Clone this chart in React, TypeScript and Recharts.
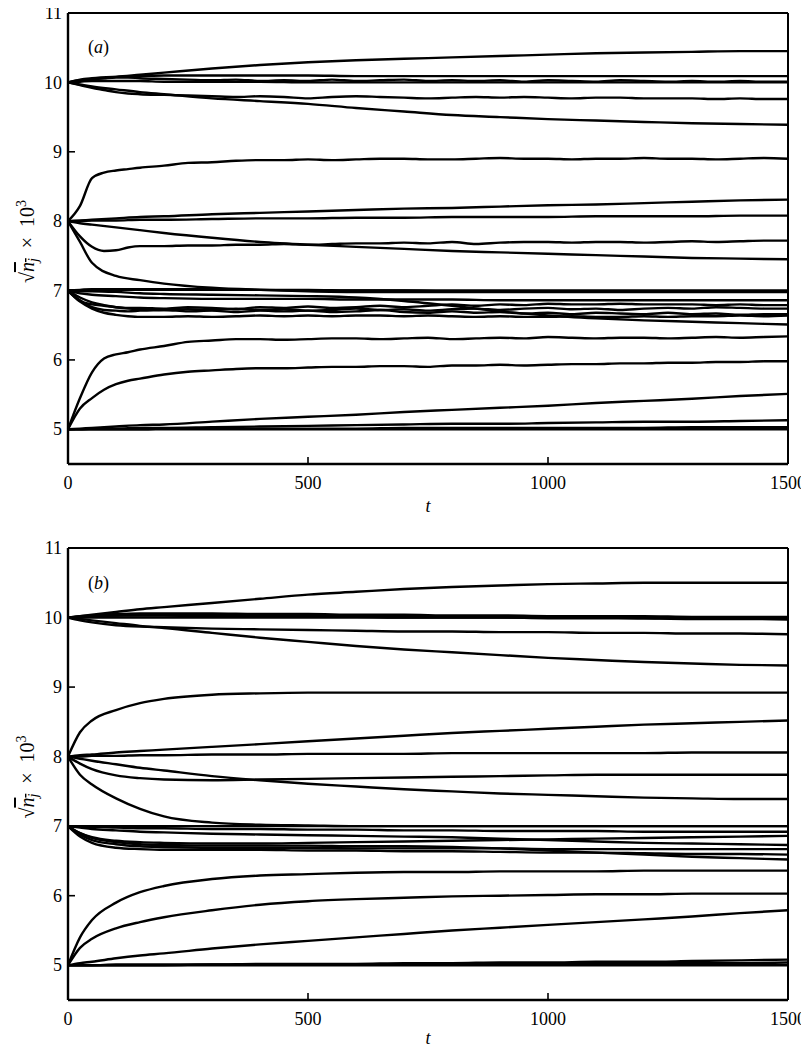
import React from 'react';
import { LineChart, Line, XAxis, YAxis, ReferenceLine, Customized } from 'recharts';

// ---------- time grids ----------
const T_S = [0, 25, 50, 100, 150, 200, 300, 400, 500, 600, 700, 800, 900, 1000, 1100, 1200, 1300, 1400, 1500];
const T_W = [0, 25, 50, 75, 100, 125, 150, 200, 250, 300, 350, 400, 450, 500, 550, 600, 650, 700, 750, 800, 850, 900, 950, 1000, 1050, 1100, 1150, 1200, 1250, 1300, 1350, 1400, 1450, 1500];
const X_TICKS = [0, 500, 1000, 1500];
const Y_TICKS = [5, 6, 7, 8, 9, 10, 11];

// ---------- panel (a) ----------
const A_10_UP = [10, 10.02, 10.04, 10.08, 10.11, 10.14, 10.2, 10.25, 10.29, 10.32, 10.34, 10.36, 10.38, 10.4, 10.42, 10.43, 10.44, 10.45, 10.45];
const A_10_HI = [10, 10.04, 10.06, 10.08, 10.09, 10.1, 10.1, 10.1, 10.1, 10.09, 10.09, 10.09, 10.09, 10.09, 10.09, 10.09, 10.09, 10.09, 10.09];
const A_10_WIG = [10, 10.03, 10.05, 10.06, 10.07, 10.07, 10.06, 10.05, 10.04, 10.03, 10.04, 10.02, 10.03, 10.02, 10.04, 10.02, 10.03, 10.04, 10.02, 10.03, 10.02, 10.03, 10.01, 10.03, 10.02, 10.01, 10.03, 10.02, 10.01, 10.02, 10.01, 10.02, 10.01, 10.01];
const A_10_FLAT = [10, 10.01, 10.02, 10.02, 10.02, 10.01, 10.01, 10.01, 10, 10, 10, 10, 10, 10, 10, 10, 10, 10, 10];
const A_10_LOW = [10, 9.96, 9.92, 9.89, 9.86, 9.84, 9.83, 9.82, 9.81, 9.8, 9.79, 9.8, 9.79, 9.77, 9.79, 9.8, 9.79, 9.78, 9.77, 9.78, 9.79, 9.78, 9.79, 9.78, 9.77, 9.78, 9.78, 9.77, 9.77, 9.77, 9.76, 9.77, 9.76, 9.76];
const A_10_DOWN = [10, 9.97, 9.94, 9.9, 9.86, 9.83, 9.77, 9.73, 9.69, 9.63, 9.58, 9.53, 9.5, 9.47, 9.45, 9.43, 9.41, 9.4, 9.39];

const A_8_JUMP = [8, 8.22, 8.62, 8.7, 8.73, 8.75, 8.77, 8.8, 8.84, 8.85, 8.87, 8.88, 8.88, 8.89, 8.88, 8.89, 8.9, 8.9, 8.89, 8.89, 8.9, 8.91, 8.9, 8.9, 8.89, 8.9, 8.9, 8.91, 8.9, 8.9, 8.89, 8.9, 8.91, 8.9];
const A_8_UP = [8, 8.01, 8.02, 8.04, 8.06, 8.07, 8.1, 8.12, 8.14, 8.16, 8.18, 8.19, 8.21, 8.23, 8.24, 8.26, 8.28, 8.3, 8.31];
const A_8_FLAT = [8, 8, 8.01, 8.01, 8.02, 8.02, 8.03, 8.04, 8.04, 8.05, 8.05, 8.06, 8.06, 8.06, 8.07, 8.07, 8.07, 8.08, 8.08];
const A_8_DIP = [8, 7.78, 7.63, 7.57, 7.58, 7.62, 7.64, 7.64, 7.65, 7.65, 7.66, 7.66, 7.67, 7.66, 7.67, 7.68, 7.68, 7.69, 7.68, 7.7, 7.67, 7.69, 7.7, 7.7, 7.69, 7.7, 7.7, 7.69, 7.7, 7.71, 7.7, 7.71, 7.72, 7.72];
const A_8_DOWN = [8, 7.97, 7.95, 7.91, 7.87, 7.83, 7.76, 7.7, 7.66, 7.63, 7.6, 7.57, 7.55, 7.53, 7.51, 7.49, 7.47, 7.46, 7.45];
const A_8_DECAY = [8, 7.7, 7.4, 7.21, 7.15, 7.1, 7.04, 7.01, 6.99, 6.98, 6.98, 6.98, 6.98, 6.98, 6.98, 6.98, 6.98, 6.98, 6.98];

const A_7_FLAT = [7, 7, 7.01, 7.01, 7.01, 7.01, 7.01, 7.01, 7, 7, 7, 7, 7, 7, 7, 7, 7, 7, 7];
const A_7_FLAT2 = [7, 7.01, 7.02, 7.02, 7.02, 7.02, 7.02, 7.01, 7.01, 7, 7, 6.99, 6.99, 6.99, 6.99, 6.99, 6.99, 6.99, 6.99];
const A_7_SLIDE = [7, 6.99, 6.99, 6.98, 6.96, 6.95, 6.94, 6.93, 6.92, 6.9, 6.85, 6.78, 6.7, 6.64, 6.6, 6.57, 6.55, 6.53, 6.51];
const A_7_HIGH = [7, 6.96, 6.94, 6.92, 6.9, 6.89, 6.88, 6.88, 6.88, 6.87, 6.87, 6.87, 6.86, 6.86, 6.86, 6.86, 6.86, 6.86, 6.86];
const A_7_W1 = [7, 6.85, 6.8, 6.78, 6.76, 6.75, 6.75, 6.74, 6.76, 6.75, 6.73, 6.76, 6.75, 6.77, 6.75, 6.76, 6.78, 6.76, 6.78, 6.8, 6.78, 6.8, 6.79, 6.81, 6.8, 6.8, 6.81, 6.8, 6.8, 6.8, 6.79, 6.8, 6.79, 6.79];
const A_7_W2 = [7, 6.9, 6.83, 6.79, 6.76, 6.74, 6.73, 6.72, 6.73, 6.72, 6.74, 6.72, 6.73, 6.71, 6.72, 6.74, 6.72, 6.73, 6.71, 6.73, 6.74, 6.72, 6.74, 6.75, 6.73, 6.74, 6.72, 6.74, 6.75, 6.74, 6.76, 6.75, 6.74, 6.74];
const A_7_W3 = [7, 6.86, 6.76, 6.72, 6.71, 6.7, 6.71, 6.72, 6.7, 6.71, 6.69, 6.71, 6.7, 6.71, 6.69, 6.7, 6.72, 6.69, 6.68, 6.7, 6.68, 6.69, 6.67, 6.68, 6.66, 6.68, 6.67, 6.66, 6.68, 6.66, 6.67, 6.65, 6.66, 6.66];
const A_7_W4 = [7, 6.84, 6.74, 6.68, 6.65, 6.63, 6.62, 6.62, 6.63, 6.62, 6.63, 6.64, 6.63, 6.64, 6.63, 6.64, 6.64, 6.63, 6.64, 6.63, 6.62, 6.63, 6.62, 6.62, 6.63, 6.62, 6.62, 6.63, 6.62, 6.63, 6.63, 6.64, 6.63, 6.64];

const A_5_JUMP = [5, 5.45, 5.82, 6.02, 6.08, 6.11, 6.15, 6.2, 6.26, 6.28, 6.3, 6.3, 6.29, 6.3, 6.31, 6.31, 6.3, 6.31, 6.32, 6.3, 6.31, 6.32, 6.31, 6.33, 6.32, 6.31, 6.32, 6.32, 6.31, 6.32, 6.33, 6.32, 6.33, 6.34];
const A_5_RISE = [5, 5.3, 5.45, 5.57, 5.65, 5.7, 5.73, 5.79, 5.83, 5.85, 5.87, 5.88, 5.88, 5.89, 5.9, 5.9, 5.91, 5.91, 5.9, 5.92, 5.92, 5.93, 5.92, 5.93, 5.94, 5.94, 5.95, 5.95, 5.96, 5.96, 5.97, 5.97, 5.98, 5.98];
const A_5_UP = [5, 5.01, 5.02, 5.04, 5.06, 5.07, 5.11, 5.15, 5.18, 5.21, 5.25, 5.28, 5.31, 5.34, 5.38, 5.41, 5.44, 5.48, 5.51];
const A_5_SLOW = [5, 5, 5.01, 5.01, 5.02, 5.02, 5.03, 5.04, 5.05, 5.06, 5.07, 5.08, 5.08, 5.09, 5.1, 5.11, 5.11, 5.12, 5.13];
const A_5_LOW = [5, 5, 5, 5, 5, 5.01, 5.01, 5.01, 5.01, 5.01, 5.02, 5.02, 5.02, 5.02, 5.02, 5.02, 5.03, 5.03, 5.03];
const A_5_FLAT = [5, 5, 5, 5, 5, 5, 5, 5, 5, 5, 5, 5, 5, 5, 5, 5, 5, 5, 5];

// ---------- panel (b) ----------
const B_10_UP = [10, 10.02, 10.04, 10.08, 10.12, 10.15, 10.21, 10.27, 10.33, 10.37, 10.41, 10.44, 10.46, 10.48, 10.49, 10.5, 10.5, 10.5, 10.5];
const B_10_A = [10, 10.02, 10.03, 10.05, 10.06, 10.06, 10.06, 10.05, 10.05, 10.04, 10.04, 10.03, 10.03, 10.02, 10.02, 10.02, 10.01, 10.01, 10.01];
const B_10_B = [10, 10.01, 10.02, 10.03, 10.04, 10.04, 10.04, 10.04, 10.03, 10.03, 10.02, 10.02, 10.01, 10, 10, 9.99, 9.98, 9.98, 9.97];
const B_10_C = [10, 10, 10, 10, 10, 10, 10, 10, 10, 10, 10, 10, 10, 10, 10, 10, 10, 10, 10];
const B_10_D = [10, 10.01, 10.02, 10.03, 10.03, 10.03, 10.02, 10.02, 10.01, 10.01, 10, 10, 10, 9.99, 9.99, 9.99, 9.99, 9.99, 9.99];
const B_10_LOW = [10, 9.96, 9.93, 9.89, 9.87, 9.86, 9.84, 9.83, 9.82, 9.81, 9.8, 9.8, 9.79, 9.79, 9.78, 9.78, 9.77, 9.77, 9.76];
const B_10_DOWN = [10, 9.98, 9.96, 9.92, 9.88, 9.85, 9.78, 9.71, 9.65, 9.59, 9.54, 9.5, 9.46, 9.42, 9.39, 9.36, 9.34, 9.32, 9.31];

const B_8_JUMP = [8, 8.35, 8.52, 8.67, 8.77, 8.83, 8.89, 8.91, 8.92, 8.92, 8.92, 8.92, 8.92, 8.92, 8.92, 8.92, 8.92, 8.92, 8.92];
const B_8_UP = [8, 8.02, 8.03, 8.06, 8.08, 8.1, 8.14, 8.18, 8.22, 8.26, 8.3, 8.34, 8.37, 8.4, 8.43, 8.46, 8.48, 8.5, 8.52];
const B_8_FLAT = [8, 8, 8.01, 8.01, 8.02, 8.02, 8.03, 8.03, 8.04, 8.04, 8.04, 8.05, 8.05, 8.05, 8.05, 8.05, 8.06, 8.06, 8.06];
const B_8_DIP = [8, 7.9, 7.82, 7.73, 7.69, 7.67, 7.66, 7.67, 7.68, 7.69, 7.7, 7.71, 7.72, 7.73, 7.74, 7.74, 7.74, 7.74, 7.74];
const B_8_DOWN = [8, 7.97, 7.94, 7.89, 7.84, 7.8, 7.72, 7.66, 7.61, 7.57, 7.53, 7.5, 7.47, 7.45, 7.43, 7.41, 7.4, 7.39, 7.39];
const B_8_DECAY = [8, 7.74, 7.6, 7.4, 7.25, 7.14, 7.05, 7.02, 7.01, 7, 7, 7, 7, 7, 7, 7, 7, 7, 7];

const B_7_FLAT = [7, 7, 7, 7, 7, 7, 7, 7, 7, 7, 7, 7, 7, 7, 7, 7, 7, 7, 7];
const B_7_A = [7, 6.99, 6.99, 6.98, 6.97, 6.97, 6.96, 6.96, 6.95, 6.95, 6.94, 6.94, 6.93, 6.93, 6.93, 6.92, 6.92, 6.92, 6.92];
const B_7_B = [7, 6.98, 6.96, 6.94, 6.92, 6.91, 6.89, 6.88, 6.87, 6.86, 6.85, 6.84, 6.82, 6.8, 6.78, 6.76, 6.75, 6.74, 6.73];
const B_7_C = [7, 6.9, 6.84, 6.79, 6.77, 6.76, 6.75, 6.75, 6.76, 6.77, 6.78, 6.79, 6.8, 6.81, 6.82, 6.83, 6.84, 6.85, 6.86];
const B_7_D = [7, 6.88, 6.8, 6.74, 6.71, 6.7, 6.69, 6.69, 6.69, 6.68, 6.68, 6.68, 6.68, 6.67, 6.67, 6.67, 6.67, 6.67, 6.67];
const B_7_E = [7, 6.85, 6.76, 6.69, 6.67, 6.66, 6.66, 6.66, 6.65, 6.65, 6.64, 6.64, 6.63, 6.62, 6.62, 6.61, 6.6, 6.6, 6.59];
const B_7_F = [7, 6.9, 6.83, 6.77, 6.74, 6.73, 6.72, 6.72, 6.72, 6.71, 6.71, 6.7, 6.68, 6.65, 6.62, 6.59, 6.56, 6.54, 6.52];

const B_5_JUMP = [5, 5.4, 5.65, 5.9, 6.05, 6.14, 6.24, 6.29, 6.31, 6.33, 6.34, 6.34, 6.35, 6.35, 6.35, 6.36, 6.36, 6.36, 6.36];
const B_5_RISE = [5, 5.25, 5.38, 5.53, 5.62, 5.69, 5.79, 5.87, 5.92, 5.95, 5.97, 5.99, 6, 6.01, 6.02, 6.02, 6.03, 6.03, 6.03];
const B_5_UP = [5, 5.03, 5.05, 5.1, 5.14, 5.17, 5.24, 5.3, 5.35, 5.4, 5.45, 5.5, 5.54, 5.58, 5.62, 5.66, 5.7, 5.75, 5.79];
const B_5_SLOW = [5, 5, 5, 5.01, 5.01, 5.01, 5.01, 5.02, 5.02, 5.02, 5.03, 5.03, 5.04, 5.04, 5.05, 5.05, 5.06, 5.07, 5.08];
const B_5_LOW = [5, 5, 5, 5, 5, 5, 5.01, 5.01, 5.01, 5.01, 5.01, 5.02, 5.02, 5.02, 5.02, 5.03, 5.03, 5.03, 5.04];
const B_5_FLAT = [5, 5, 5, 5, 5, 5, 5, 5, 5, 5, 5, 5, 5, 5, 5, 5, 5, 5, 5];

type Series = [number[], number[]];

const PANEL_A: Series[] = [
  [T_S, A_10_UP], [T_S, A_10_HI], [T_W, A_10_WIG], [T_S, A_10_FLAT], [T_W, A_10_LOW], [T_S, A_10_DOWN],
  [T_W, A_8_JUMP], [T_S, A_8_UP], [T_S, A_8_FLAT], [T_W, A_8_DIP], [T_S, A_8_DOWN], [T_S, A_8_DECAY],
  [T_S, A_7_FLAT], [T_S, A_7_FLAT2], [T_S, A_7_SLIDE], [T_S, A_7_HIGH], [T_W, A_7_W1], [T_W, A_7_W2], [T_W, A_7_W3], [T_W, A_7_W4],
  [T_W, A_5_JUMP], [T_W, A_5_RISE], [T_S, A_5_UP], [T_S, A_5_SLOW], [T_S, A_5_LOW], [T_S, A_5_FLAT],
];

const PANEL_B: Series[] = [
  [T_S, B_10_UP], [T_S, B_10_A], [T_S, B_10_B], [T_S, B_10_C], [T_S, B_10_D], [T_S, B_10_LOW], [T_S, B_10_DOWN],
  [T_S, B_8_JUMP], [T_S, B_8_UP], [T_S, B_8_FLAT], [T_S, B_8_DIP], [T_S, B_8_DOWN], [T_S, B_8_DECAY],
  [T_S, B_7_FLAT], [T_S, B_7_A], [T_S, B_7_B], [T_S, B_7_C], [T_S, B_7_D], [T_S, B_7_E], [T_S, B_7_F],
  [T_S, B_5_JUMP], [T_S, B_5_RISE], [T_S, B_5_UP], [T_S, B_5_SLOW], [T_S, B_5_LOW], [T_S, B_5_FLAT],
];

const FONT = '"Liberation Serif", "DejaVu Serif", "Times New Roman", serif';
const FS = 18;
const TXT = { fontFamily: FONT, fontSize: FS, fill: '#000' } as React.CSSProperties;

const toRows = (s: Series) => s[0].map((t, i) => ({ t, v: s[1][i] }));

const YTick = (props: any) => {
  const { x, y, payload } = props;
  return (
    <g>
      <line x1={x} x2={x + 7} y1={y} y2={y} stroke="#000" strokeWidth={1.6} />
      <text x={x - 6} y={y} dy="0.34em" textAnchor="end" style={TXT}>
        {payload.value}
      </text>
    </g>
  );
};

const XTick = (props: any) => {
  const { x, y, payload } = props;
  return (
    <g>
      <line x1={x} x2={x} y1={y} y2={y - 7} stroke="#000" strokeWidth={1.6} />
      <text x={x} y={y + 19} dy="0.34em" textAnchor="middle" style={TXT}>
        {payload.value}
      </text>
    </g>
  );
};

type PanelProps = {
  series: Series[];
  tag: string;
  height: number;
  top: number;
  axisH: number;
  tagY: number;
  tY: number;
};

const PLOT_LEFT = 68;
const PLOT_W = 720;
const CHART_W = 809;

function Panel({ series, tag, height, top, axisH, tagY, tY }: PanelProps) {
  const plotH = height - top - axisH;
  const cy = top + plotH / 2 + 3;
  const lx = 34;
  return (
    <LineChart
      width={CHART_W}
      height={height}
      margin={{ top, right: CHART_W - PLOT_LEFT - PLOT_W, left: 0, bottom: 0 }}
    >
      <XAxis
        dataKey="t"
        type="number"
        domain={[0, 1500]}
        ticks={X_TICKS}
        interval={0}
        height={axisH}
        tickSize={0}
        tickMargin={0}
        tickLine={false}
        axisLine={{ stroke: '#000', strokeWidth: 2.4 }}
        tick={<XTick />}
      />
      <YAxis
        type="number"
        domain={[4.5, 11]}
        ticks={Y_TICKS}
        interval={0}
        width={PLOT_LEFT}
        tickSize={0}
        tickMargin={0}
        tickLine={false}
        axisLine={{ stroke: '#000', strokeWidth: 2.4 }}
        tick={<YTick />}
      />
      <ReferenceLine y={11} stroke="#000" strokeWidth={2} ifOverflow="visible" />
      <ReferenceLine x={1500} stroke="#000" strokeWidth={2} ifOverflow="visible" />
      {series.map((s, i) => (
        <Line
          key={i}
          data={toRows(s)}
          dataKey="v"
          type="monotone"
          stroke="#000"
          strokeWidth={2.4}
          dot={false}
          activeDot={false}
          isAnimationActive={false}
        />
      ))}
      <Customized
        component={() => (
          <g>
            <text x={88} y={tagY} style={TXT}>
              (<tspan fontStyle="italic">{tag}</tspan>)
            </text>
            <text
              x={lx}
              y={cy}
              transform={`rotate(-90, ${lx}, ${cy})`}
              textAnchor="middle"
              style={{ ...TXT, fontSize: 20 }}
            >
              <tspan>√</tspan>
              <tspan textDecoration="overline">
                <tspan fontStyle="italic">n</tspan>
                <tspan fontStyle="italic" fontSize={14} dy={4}>j</tspan>
              </tspan>
              <tspan dy={-4}>{'\u2002×\u200210'}</tspan>
              <tspan fontSize={14} dy={-8}>3</tspan>
            </text>
            <text
              x={PLOT_LEFT + PLOT_W / 2}
              y={tY}
              textAnchor="middle"
              fontStyle="italic"
              style={TXT}
            >
              t
            </text>
          </g>
        )}
      />
    </LineChart>
  );
}

export default function App() {
  return (
    <div style={{ width: CHART_W, margin: '-8px 0 -8px -8px' }}>
      <Panel series={PANEL_A} tag="a" height={528} top={13} axisH={64} tagY={53} tY={512} />
      <Panel series={PANEL_B} tag="b" height={524} top={20} axisH={52} tagY={61} tY={516} />
    </div>
  );
}
